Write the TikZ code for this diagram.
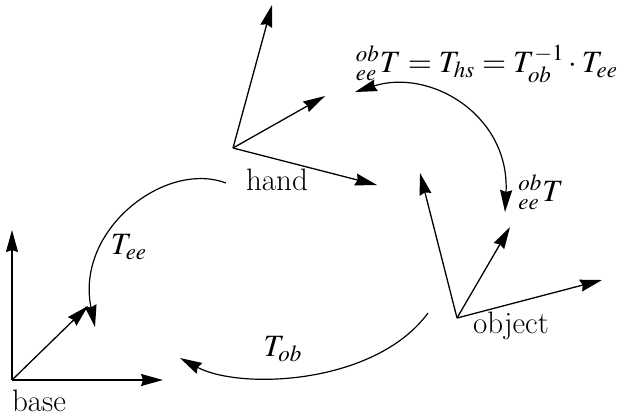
\documentclass[tikz,border=0pt]{standalone}
\usepackage{mathptmx}
\usetikzlibrary{arrows.meta}
\begin{document}
\begin{tikzpicture}[x=0.5pt,y=-0.5pt,
  tip/.tip={Stealth[length=11pt,width=6pt,inset=1pt]},
  axis/.style={line width=0.65pt,-tip},
  trans/.style={line width=0.6pt,-tip},
  lbl/.style={inner sep=1pt,font=\fontsize{15.5}{18}\selectfont}]
\useasboundingbox (0,0) rectangle (624,419);
% base frame
\coordinate (b) at (12,380);
\coordinate (bx) at (163,380);
\coordinate (by) at (12,230);
\coordinate (bz) at (88,306);
\draw[axis] (b) -- (bx);
\draw[axis] (b) -- (by);
\draw[axis] (b) -- (bz);
\node[lbl] (base) at (39,401) {base};
% hand frame
\coordinate (h) at (233,148);
\coordinate (hx) at (377,185);
\coordinate (hy) at (272,5);
\coordinate (hz) at (325,96);
\draw[axis] (h) -- (hx);
\draw[axis] (h) -- (hy);
\draw[axis] (h) -- (hz);
\node[lbl] (hand) at (277,180) {hand};
% object frame
\coordinate (o) at (457,318);
\coordinate (ox) at (602,280);
\coordinate (oy) at (420,173);
\coordinate (oz) at (510,227);
\draw[axis] (o) -- (ox);
\draw[axis] (o) -- (oy);
\draw[axis] (o) -- (oz);
\node[lbl] (object) at (511,326) {object};
% transforms
\coordinate (tee1) at (226,183);
\coordinate (tee2) at (95,327);
\draw[trans] (tee1) .. controls (165,160) and (75,230) .. (tee2);
\node[lbl] (Tee) at (129,247) {$T_{ee}$};
\coordinate (tob1) at (428,313);
\coordinate (tob2) at (180,358);
\draw[trans] (tob1) .. controls (375,385) and (240,390) .. (tob2);
\node[lbl] (Tob) at (283,349) {$T_{ob}$};
\coordinate (ths1) at (355,92);
\coordinate (ths2) at (505,212);
\draw[trans,tip-tip] (ths1) .. controls (430,68) and (510,115) .. (ths2);
\node[lbl] (eq) at (487,64) {${}^{ob}_{ee}T = T_{hs} = T_{ob}^{-1}\cdot T_{ee}$};
\node[lbl] (obT) at (541,192) {${}^{ob}_{ee}T$};
\end{tikzpicture}
\end{document}
